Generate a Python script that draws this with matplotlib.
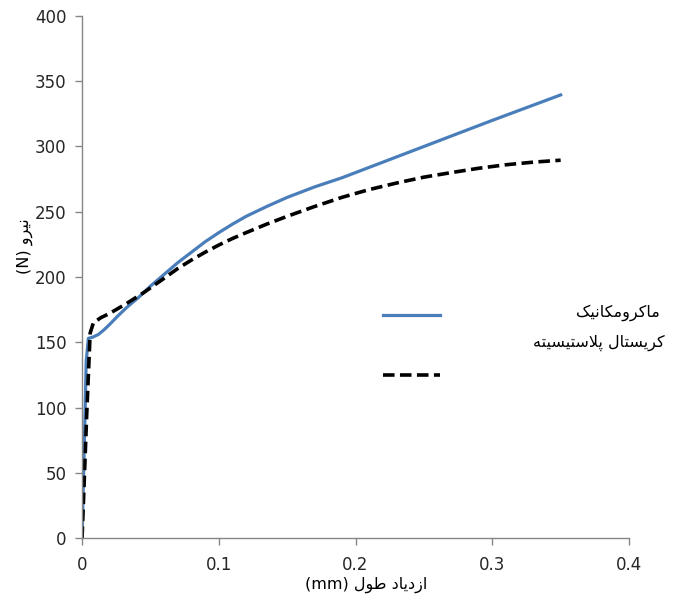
import matplotlib
matplotlib.use("Agg")
import matplotlib.pyplot as plt

# داده‌ها (خوانده شده از نمودار)
macro_x = [0, 0.001, 0.0022, 0.003, 0.0046, 0.008, 0.012, 0.016, 0.02, 0.026, 0.033, 0.042,
           0.05, 0.06, 0.07, 0.08, 0.09, 0.1, 0.11, 0.12, 0.135, 0.15, 0.17, 0.19,
           0.22, 0.25, 0.3, 0.35]
macro_y = [0, 45, 96, 135, 153, 154, 156, 159.5, 163.5, 170, 177, 185,
           193, 202, 211, 219, 227, 234, 240.5, 246.5, 254, 261, 269, 276,
           288, 300, 320, 339.5]

cp_x = [0, 0.0034, 0.0059, 0.0083, 0.014, 0.02, 0.033, 0.045, 0.06, 0.07, 0.08, 0.09,
        0.1, 0.11, 0.12, 0.135, 0.15, 0.17, 0.19, 0.21, 0.23, 0.25, 0.27, 0.29,
        0.31, 0.33, 0.35]
cp_y = [0, 95, 157, 165, 169, 172, 180, 188, 199, 206.5, 213, 219,
        224.5, 229.5, 234, 240.5, 246.5, 254, 261, 267, 272, 276.5, 280, 283.3,
        286, 288, 289.5]

x_ticks = [0, 0.1, 0.2, 0.3, 0.4]
x_tick_labels = ["0", "0.1", "0.2", "0.3", "0.4"]
y_ticks = [0, 50, 100, 150, 200, 250, 300, 350, 400]

label_macro = "ماکرومکانیک"
label_cp = "کریستال پلاستیسیته"
x_title = "ازدیاد طول"
y_title = "نیرو"

# شکل‌دهی ساده حروف فارسی (matplotlib خودش این کار را نمی‌کند)
FORMS = {  # isolated, final, initial, medial
    'ا': ('\uFE8D', '\uFE8E', None, None),
    'د': ('\uFEA9', '\uFEAA', None, None),
    'ر': ('\uFEAD', '\uFEAE', None, None),
    'ز': ('\uFEAF', '\uFEB0', None, None),
    'و': ('\uFEED', '\uFEEE', None, None),
    'پ': ('\uFB56', '\uFB57', '\uFB58', '\uFB59'),
    'ت': ('\uFE95', '\uFE96', '\uFE97', '\uFE98'),
    'س': ('\uFEB1', '\uFEB2', '\uFEB3', '\uFEB4'),
    'ط': ('\uFEC1', '\uFEC2', '\uFEC3', '\uFEC4'),
    'ل': ('\uFEDD', '\uFEDE', '\uFEDF', '\uFEE0'),
    'م': ('\uFEE1', '\uFEE2', '\uFEE3', '\uFEE4'),
    'ن': ('\uFEE5', '\uFEE6', '\uFEE7', '\uFEE8'),
    'ه': ('\uFEE9', '\uFEEA', '\uFEEB', '\uFEEC'),
    'ک': ('\uFB8E', '\uFB8F', '\uFB90', '\uFB91'),
    'ی': ('\uFBFC', '\uFBFD', '\uFBFE', '\uFBFF'),
}


def shape(word):
    out = []
    chars = list(word)
    i = 0
    while i < len(chars):
        c = chars[i]
        if c not in FORMS:
            out.append(c)
            i += 1
            continue
        prev = chars[i - 1] if i > 0 else None
        joined_prev = prev in FORMS and FORMS[prev][2] is not None
        # لام الف
        if c == 'ل' and i + 1 < len(chars) and chars[i + 1] == 'ا':
            out.append('\uFEFC' if joined_prev else '\uFEFB')
            i += 2
            continue
        nxt = chars[i + 1] if i + 1 < len(chars) else None
        joins_next = FORMS[c][2] is not None and nxt in FORMS
        iso, fin, ini, med = FORMS[c]
        if joined_prev and joins_next:
            out.append(med)
        elif joined_prev:
            out.append(fin)
        elif joins_next:
            out.append(ini)
        else:
            out.append(iso)
        i += 1
    return ''.join(out)


def rtl(text):
    return shape(text)[::-1]


fig = plt.figure(figsize=(6.84, 6.05), dpi=100)
ax = fig.add_axes([0.12, 0.1107, 0.7996, 0.8629])

ax.plot(macro_x, macro_y, color='#4a7ebb', lw=2.3, solid_joinstyle='round')
ax.plot(cp_x, cp_y, color='black', lw=2.6, dashes=(3.2, 1.5))

ax.set_xlim(0, 0.4)
ax.set_ylim(0, 400)
ax.set_xticks(x_ticks)
ax.set_xticklabels(x_tick_labels)
ax.set_yticks(y_ticks)

for s in ['top', 'right']:
    ax.spines[s].set_visible(False)
for s in ['left', 'bottom']:
    ax.spines[s].set_color('#868686')
    ax.spines[s].set_linewidth(1.0)
ax.tick_params(axis='both', colors='#868686', labelcolor='#262626', labelsize=12,
               length=5, width=1.0, direction='out')
ax.tick_params(axis='x', pad=8)
ax.tick_params(axis='y', pad=6)

ax.set_xlabel("(mm) " + rtl(x_title), fontsize=11.5, family='DejaVu Sans')
ax.set_ylabel("(N) " + rtl(y_title), fontsize=11.5, family='DejaVu Sans')
ax.yaxis.set_label_coords(-0.09, 0.56)
ax.xaxis.set_label_coords(0.52, -0.075)

# راهنما
ax.plot([0.550, 0.654], [0.427, 0.427], transform=ax.transAxes, color='#4a7ebb',
        lw=2.3, clip_on=False)
ax.plot([0.550, 0.654], [0.312, 0.312], transform=ax.transAxes, color='black',
        lw=2.6, dashes=(3.2, 1.5), clip_on=False)
ax.text(1.057, 0.431, rtl(label_macro), transform=ax.transAxes, ha='right',
        va='center', fontsize=11.5, color='black')
ax.text(1.066, 0.3736, rtl(label_cp), transform=ax.transAxes, ha='right',
        va='center', fontsize=11.5, color='black')

fig.savefig('out.png', dpi=100)
